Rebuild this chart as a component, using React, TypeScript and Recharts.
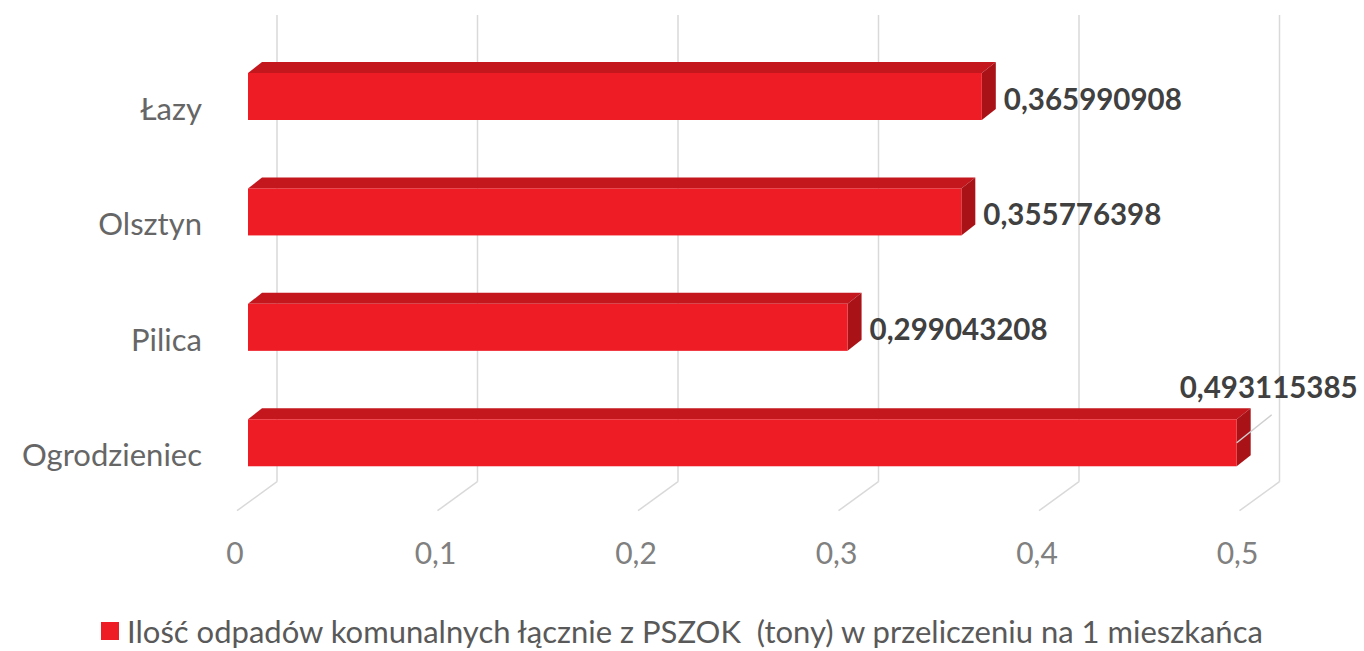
import React from 'react';
import { BarChart, Bar, XAxis, YAxis, CartesianGrid, LabelList, Legend } from 'recharts';

const categories = ['Łazy', 'Olsztyn', 'Pilica', 'Ogrodzieniec'];
const values = [0.365990908, 0.355776398, 0.299043208, 0.493115385];
const valueLabels = ['0,365990908', '0,355776398', '0,299043208', '0,493115385'];
const xTicks = [0, 0.1, 0.2, 0.3, 0.4, 0.5];
const xTickLabels = ['0', '0,1', '0,2', '0,3', '0,4', '0,5'];
const seriesName = 'Ilość odpadów komunalnych łącznie z PSZOK  (tony) w przeliczeniu na 1 mieszkańca';

const data = categories.map((c, i) => ({ name: c, value: values[i] }));

const FONT = 'Lato, "Open Sans", sans-serif';
const DX = 14;
const DY = 11;
const BACK_DX = 29;
const FRONT_DX = -11;
const GRID = '#d9d9d9';

function Box3D(props: any) {
  const { x, y, width, height } = props;
  if (width == null || height == null) return null;
  const r = x + width;
  return (
    <g>
      <polygon points={`${x},${y} ${x + DX},${y - DY} ${r + DX},${y - DY} ${r},${y}`} fill="#C3171D" />
      <polygon points={`${r},${y} ${r + DX},${y - DY} ${r + DX},${y + height - DY} ${r},${y + height}`} fill="#A91318" />
      <rect x={x} y={y} width={width} height={height} fill="#EE1C25" />
    </g>
  );
}

function ValueLabel(props: any) {
  const { x, y, width, height, index } = props;
  const v = values[index];
  const text = valueLabels[index];
  const endX = x + width;
  const cy = y + height / 2;
  const style = { fontFamily: FONT, fontWeight: 700, fontSize: 29.5, fill: '#404040' };
  if (v > 0.45) {
    return (
      <g>
        <line x1={endX} y1={cy} x2={endX + 35} y2={cy - 28} stroke="#cfcfcf" strokeWidth={1.5} />
        <text x={endX - 57} y={cy - 45} style={style}>{text}</text>
      </g>
    );
  }
  return <text x={endX + 22} y={cy + 13} style={style}>{text}</text>;
}

const gridLine = (p: any) => {
  const { x1, y1, y2, key } = p;
  return (
    <g key={key}>
      <line x1={x1 + BACK_DX} y1={y1 - 24} x2={x1 + BACK_DX} y2={y2 - 19} stroke={GRID} strokeWidth={1.5} />
      <line x1={x1 + BACK_DX} y1={y2 - 19} x2={x1 + FRONT_DX} y2={y2 + 10} stroke={GRID} strokeWidth={1.5} />
    </g>
  );
};

const CatTick = (p: any) => (
  <text x={p.x - 38} y={p.y + 23} textAnchor="end" style={{ fontFamily: FONT, fontSize: 31, fill: '#666666' }}>
    {p.payload.value}
  </text>
);

const NumTick = (p: any) => {
  const i = xTicks.indexOf(p.payload.value);
  return (
    <text x={p.x + FRONT_DX - 2} y={p.y + 55} textAnchor="middle" style={{ fontFamily: FONT, fontSize: 30, fill: '#808080' }}>
      {i >= 0 ? xTickLabels[i] : p.payload.value}
    </text>
  );
};

const LegendContent = () => (
  <div style={{ width: 1364, display: 'flex', justifyContent: 'center', alignItems: 'center', height: 36 }}>
    <span style={{ display: 'inline-block', width: 18, height: 18, background: '#EE1C25', marginRight: 8 }} />
    <span style={{ fontFamily: FONT, fontSize: 31, color: '#595959', whiteSpace: 'pre' }}>{seriesName}</span>
  </div>
);

export default function App() {
  return (
    <div style={{ position: 'absolute', left: 0, top: 0, width: 1364, height: 651, background: '#ffffff' }}>
      <BarChart
        width={1364}
        height={651}
        data={data}
        layout="vertical"
        margin={{ top: 39, right: 113.5, left: 48, bottom: 120.3 }}
      >
        <CartesianGrid horizontal={false} vertical={gridLine} />
        <XAxis
          type="number"
          domain={[0, 0.5]}
          ticks={xTicks}
          axisLine={false}
          tickLine={false}
          tick={<NumTick />}
          height={30}
        />
        <YAxis
          type="category"
          dataKey="name"
          width={200}
          axisLine={false}
          tickLine={false}
          tick={<CatTick />}
        />
        <Legend
          layout="vertical"
          align="center"
          verticalAlign="middle"
          content={<LegendContent />}
          wrapperStyle={{ position: 'absolute', top: 613, left: 0, width: 1364 }}
        />
        <Bar dataKey="value" name={seriesName} barSize={47} shape={<Box3D />} isAnimationActive={false}>
          <LabelList dataKey="value" content={<ValueLabel />} />
        </Bar>
      </BarChart>
    </div>
  );
}
